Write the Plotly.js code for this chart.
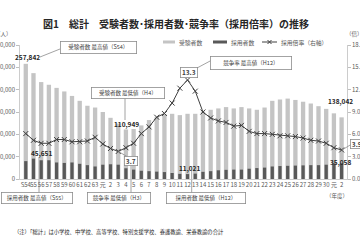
<!DOCTYPE html>
<html><head><meta charset="utf-8">
<script src="https://cdn.plot.ly/plotly-3.0.1.min.js"></script>
<style>html,body{margin:0;padding:0;background:#fff;} #chart{width:360px;height:240px;}</style>
</head><body><div id="chart"></div>
<script>
const yearLabels = ['S54','55','56','57','58','59','60','61','62','63','元','2','3','4','5','6','7','8','9','10','11','12','13','14','15','16','17','18','19','20','21','22','23','24','25','26','27','28','29','30','元','2'];
const applicants = [257842,237000,217000,211000,204000,196000,186000,175000,164000,160000,150000,137000,124000,110949,112000,120000,132000,139000,145000,146000,143000,146000,146000,151000,155000,158000,161000,158000,161000,158000,155000,160000,175000,178000,180000,177000,173000,169000,163000,157000,147000,138042];
const hires = [40000,45651,42000,42000,37000,36000,37000,34000,31000,28000,32000,33000,32000,24000,21000,18500,17500,16500,15500,13500,11500,11021,12000,16000,17500,19500,20500,21000,21000,23000,24500,25500,28000,29000,29500,30000,30500,31000,31000,32000,34952,35058];
const ratio = [6.1,5.2,4.8,4.8,5.3,5.3,5.0,5.0,5.1,5.6,4.7,4.1,3.7,4.2,4.8,6.1,7.0,8.3,8.8,10.2,12.2,13.3,11.8,9.0,8.2,7.8,7.6,7.1,7.2,6.4,6.1,6.1,6.0,5.8,5.8,5.7,5.5,5.2,5.1,4.8,4.2,3.9];
const seriesNames = ['受験者数','採用者数','採用倍率（右軸）'];

const FONT = '"Noto Sans CJK JP", "Noto Sans", sans-serif';
const W=360, H=240, L=20, R=13, T=45, B=61;
const PW = W-L-R, PH = H-T-B;
const px = x => (x-L)/PW;
const py = y => (H-B-y)/PH;
const idx = yearLabels.map((_,i)=>i);
const fmt = v => v.toLocaleString('en-US');
const LIGHT='#c4c4c4', DARK='#595959', LINE='#404040', TXT='#404040', BOX='#8c8c8c';

const traces = [
  {type:'bar', x:idx, y:applicants, name:seriesNames[0], marker:{color:LIGHT}, width:0.56, hoverinfo:'skip'},
  {type:'bar', x:idx, y:hires, name:seriesNames[1], marker:{color:DARK}, width:0.42, hoverinfo:'skip'},
  {type:'scatter', mode:'lines+markers', x:idx, y:ratio, yaxis:'y2', name:seriesNames[2],
   line:{color:LINE, width:1}, marker:{symbol:'x-thin', size:5, line:{color:LINE, width:1}}, hoverinfo:'skip'}
];

function box(text, cx, cy, w, h, size){
  return {xref:'paper', yref:'paper', x:px(cx), y:py(cy), text:text, showarrow:false,
    font:{size:size||5.5, color:TXT, family:FONT}, bordercolor:BOX, borderwidth:0.8, borderpad:0,
    bgcolor:'#ffffff', width:w, height:h, xanchor:'center', yanchor:'middle', align:'center', valign:'middle'};
}
function label(text, cx, cy, size, color, anchor){
  return {xref:'paper', yref:'paper', x:px(cx), y:py(cy), text:text, showarrow:false,
    font:{size:size||6, color:color||TXT, family:FONT}, xanchor:anchor||'center', yanchor:'middle'};
}
function seg(x0,y0,x1,y1,layer){
  return {type:'line', xref:'paper', yref:'paper', x0:px(x0), y0:py(y0), x1:px(x1), y1:py(y1),
    line:{color:BOX, width:0.8}, layer:layer||'above'};
}

const iMaxA = applicants.indexOf(Math.max(...applicants));
const iMinA = applicants.indexOf(Math.min(...applicants));
const iMaxH = hires.indexOf(Math.max(...hires));
const iMinH = hires.indexOf(Math.min(...hires));
const iMaxR = ratio.indexOf(Math.max(...ratio));
const iMinR = ratio.indexOf(Math.min(...ratio));
const last = applicants.length-1;

const annotations = [
  label('（人）', 3, 34, 5.5, '#595959'),
  label('（倍）', 354, 34, 5.5, '#595959'),
  label('<b>'+fmt(applicants[iMaxA])+'</b>', 27, 57, 6.5, '#262626'),
  box('受験者数 最高値（S54）', 98, 48, 75, 11),
  box('受験者数 最低値（H4）', 128, 93, 72, 10),
  label('<b>'+fmt(applicants[iMinA])+'</b>', 126, 124, 6.5, '#262626'),
  box('<b>'+ratio[iMaxR].toFixed(1)+'</b>', 188.5, 72.5, 16, 9, 6.5),
  box('競争率 最高値（H12）', 251, 62.5, 80, 12),
  label('<b>'+fmt(hires[iMaxH])+'</b>', 41, 153, 6.5, '#262626'),
  box('採用者数 最高値（S55）', 37, 198, 70, 10),
  box('<b>'+ratio[iMinR].toFixed(1)+'</b>', 131, 160.5, 12, 8, 6.5),
  box('競争率 最低値（H3）', 119, 198, 62, 10),
  label('<b>'+fmt(hires[iMinH])+'</b>', 190, 167.5, 6.5, '#262626'),
  box('採用者数 最低値（H12）', 206, 198, 78, 10),
  label('<b>'+fmt(applicants[last])+'</b>', 340, 101, 6.5, '#262626'),
  label('<b>'+fmt(hires[last])+'</b>', 340, 161.5, 6.5, '#262626'),
  box('<b>'+ratio[last].toFixed(1)+'</b>', 357, 143.5, 12, 8, 6.5),
  label('（年度）', 337, 196, 5.5, '#595959'),
  label('（注）「総計」は小学校、中学校、高等学校、特別支援学校、養護教諭、栄養教諭の合計', 12, 232, 5.3, '#262626', 'left'),
  label(seriesNames[0], 177, 42, 5.8, '#595959', 'left'),
  label(seriesNames[1], 229, 42, 5.8, '#595959', 'left'),
  label(seriesNames[2], 279, 42, 5.8, '#595959', 'left')
];

const mk = (cx,cy,s)=>{
  const a=px(cx-s), b=px(cx+s), c=py(cy-s), d=py(cy+s);
  return {type:'path', xref:'paper', yref:'paper', path:`M${a},${c}L${b},${d}M${a},${d}L${b},${c}`, line:{color:LINE,width:1}};
};

const shapes = [
  seg(40,57,60,49),
  seg(125,98,125,120),
  seg(197,68,212,60),
  seg(39,157,39,193,'below'),
  seg(118.4,151.5,127,156.5),
  seg(131,164.5,131,193,'below'),
  seg(191.7,171,191.7,193,'below'),
  seg(342,150,351,144.5),
  {type:'rect', xref:'paper', yref:'paper', x0:px(163), x1:px(175), y0:py(40.5), y1:py(43.5), fillcolor:LIGHT, line:{width:0}},
  {type:'rect', xref:'paper', yref:'paper', x0:px(213), x1:px(227), y0:py(40.5), y1:py(43.5), fillcolor:DARK, line:{width:0}},
  {type:'line', xref:'paper', yref:'paper', x0:px(262), x1:px(277), y0:py(42), y1:py(42), line:{color:LINE,width:1}},
  mk(269.5,42,2)
];

const axisFont = {size:6, color:'#595959', family:FONT};
const layout = {
  width:W, height:H, margin:{l:L, r:R, t:T, b:B, pad:0},
  paper_bgcolor:'#fff', plot_bgcolor:'#fff',
  font:{family:FONT, size:6, color:'#595959'},
  showlegend:false, barmode:'overlay',
  title:{text:'<b>図1　総計　受験者数･採用者数･競争率（採用倍率）の推移</b>', xref:'container', yref:'container',
    x:176/W, y:1-24.5/H, xanchor:'center', yanchor:'middle', font:{size:10, color:'#262626', family:FONT}},
  xaxis:{range:[-0.75,41.7], tickmode:'array', tickvals:idx, ticktext:yearLabels, tickangle:0,
    tickfont:axisFont, showline:true, linecolor:'#bfbfbf', linewidth:0.8, ticks:'', showgrid:false, zeroline:false, automargin:false},
  yaxis:{range:[0,300000], tickmode:'array', tickvals:[0,50000,100000,150000,200000,250000,300000], tickformat:',d',
    ticks:'outside', ticklen:3, tickcolor:'#bfbfbf', showline:true, linecolor:'#bfbfbf', linewidth:0.8,
    showgrid:false, zeroline:false, tickfont:axisFont, automargin:false},
  yaxis2:{range:[0,18], overlaying:'y', side:'right', tickmode:'array', tickvals:[0,3,6,9,12,15,18], tickformat:'.1f',
    ticks:'outside', ticklen:3, tickcolor:'#bfbfbf', showline:true, linecolor:'#bfbfbf', linewidth:0.8,
    showgrid:false, zeroline:false, tickfont:axisFont, automargin:false},
  annotations:annotations, shapes:shapes
};
Plotly.newPlot('chart', traces, layout, {staticPlot:true, displayModeBar:false});
</script></body></html>
